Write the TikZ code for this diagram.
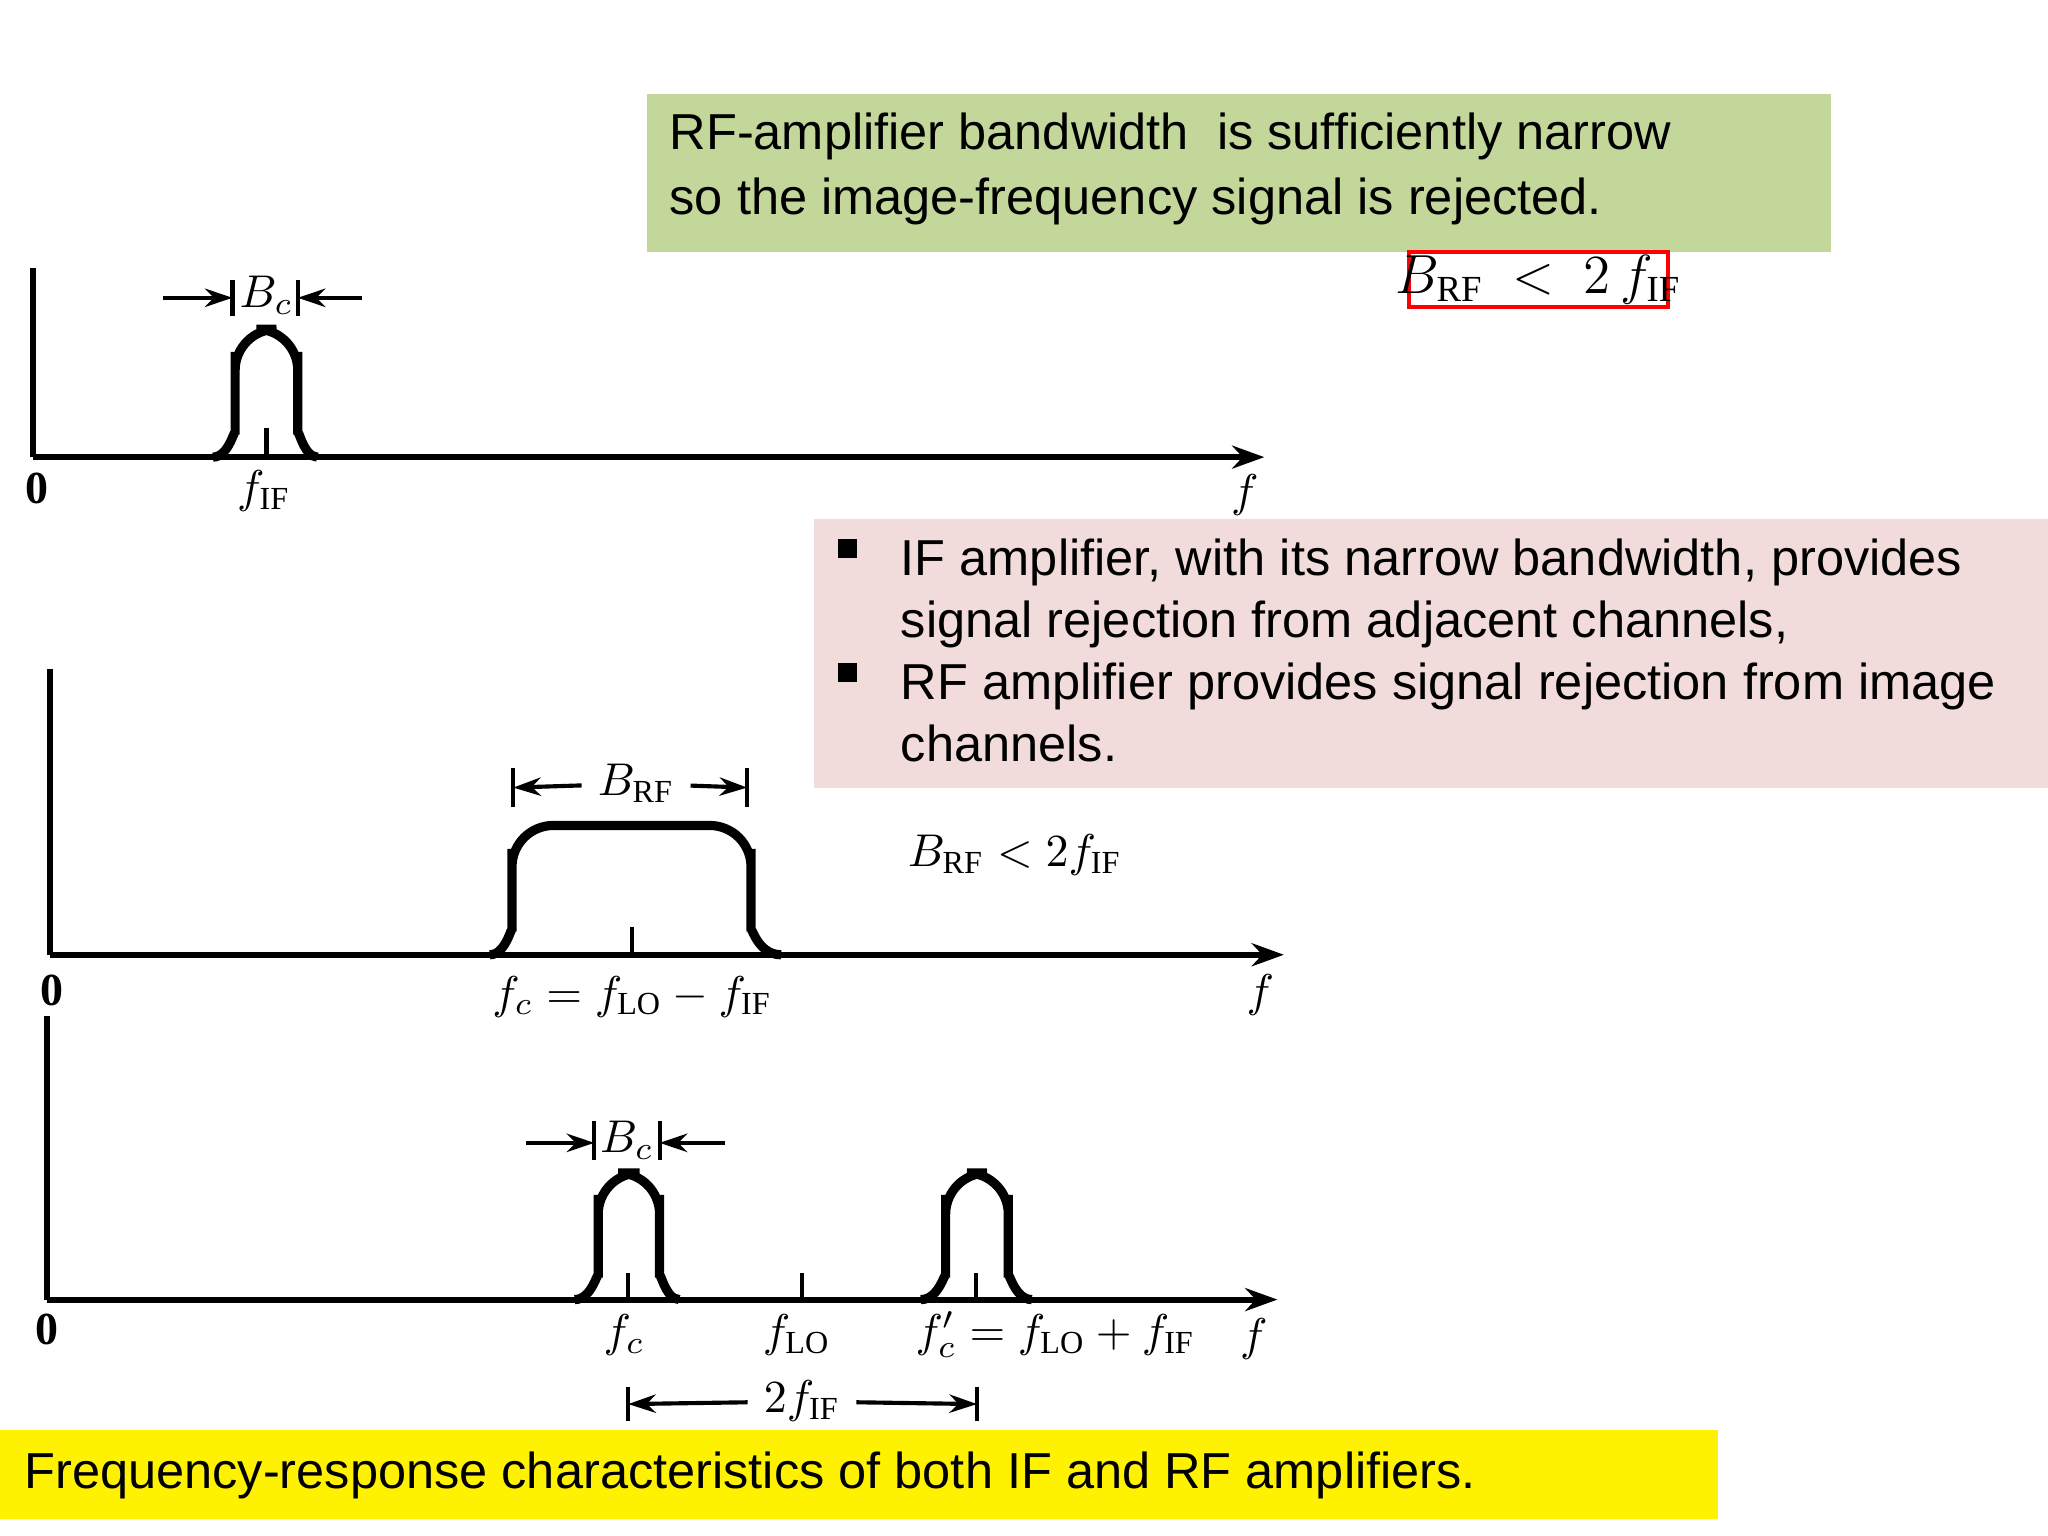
\documentclass[tikz,border=0pt]{standalone}
\usepackage{fontspec}
\setmainfont{Liberation Serif}
\newfontfamily\ar{Liberation Sans}
\usetikzlibrary{arrows.meta}
\tikzset{
 ax/.style={line width=1.3pt,-{Stealth[length=7pt,width=5pt]}},
 vax/.style={line width=1.3pt},
 bp/.style={line width=2pt,rounded corners=9pt},
 tk/.style={line width=0.9pt},
 lab/.style={font=\fontsize{10}{12}\selectfont\bfseries},
 ml/.style={font=\fontsize{10}{12}\selectfont},
 dim/.style={line width=0.9pt,-{Stealth[length=6pt,width=4pt]}},
 big/.style={font=\ar\fontsize{11}{14}\selectfont,inner sep=0pt,anchor=north west,align=left},
}
\newcommand{\bumpy}[6]{% a x1 x2 b top base
 \draw[bp] (#1,#6) .. controls (#2-4,#6) and (#2,#6-25) .. (#2,{(#5+#6)/2}) -- (#2,#5) -- (#3,#5) -- (#3,{(#5+#6)/2}) .. controls (#3,#6-25) and (#3+4,#6) .. (#4,#6);}
\begin{document}
\begin{tikzpicture}[x=0.01cm,y=-0.01cm]
\useasboundingbox (0,0) rectangle (1568,1176);
% boxes
\fill[fill={rgb,255:red,196;green,215;blue,155}] (495,72) rectangle (1402,193);
\node[big] (g) at (512,86) {RF-amplifier bandwidth\ \ is sufficiently narrow\\so the image-frequency signal is rejected.};
\draw[red,line width=0.8pt] (1079,193) rectangle (1277,235);
\node[font=\fontsize{12}{14}\selectfont] (rb) at (1178,214) {$B_{\mathrm{RF}}\ <\ 2\,f_{\mathrm{IF}}$};
\fill[fill={rgb,255:red,242;green,220;blue,219}] (623,397) rectangle (1568,603);
\node[big,font=\ar\fontsize{11}{13.5}\selectfont] (b1) at (641,412) {\rule{0.7ex}{0.7ex}};
\node[big,font=\ar\fontsize{11}{13.5}\selectfont] (b2) at (641,507) {\rule{0.7ex}{0.7ex}};
\node[big,font=\ar\fontsize{11}{13.5}\selectfont] (p) at (689,412) {IF amplifier, with its narrow bandwidth, provides\\signal rejection from adjacent channels,\\RF amplifier provides signal rejection from image\\channels.};
\fill[yellow] (0,1095) rectangle (1315,1163);
\node[big] (y) at (18,1111) {Frequency-response characteristics of both IF and RF amplifiers.};
% plot 1
\coordinate (o1) at (25,350); \coordinate (t1) at (25,205); \coordinate (e1) at (968,350);
\draw[vax] (t1) -- (o1); \draw[ax] (o1) -- (e1);
\bumpy{163}{180}{228}{243}{252}{350}
\coordinate (k1) at (204,328); \draw[tk] (k1) -- ++(0,22);
\node[lab] (z1) at (28,374) {0};
\node[ml] (fif) at (202,376) {$f_{\mathrm{IF}}$};
\node[ml] (ff1) at (953,379) {$f$};
\node[ml] (bc1) at (204,226) {$B_c$};
\coordinate (l1) at (178,228); \coordinate (r1) at (228,228);
\draw[tk] (178,214) -- (178,242); \draw[tk] (228,214) -- (228,242);
\draw[dim] (125,228) -- (l1); \draw[dim] (277,228) -- (r1);
% plot 2
\coordinate (o2) at (38,731); \coordinate (t2) at (38,512); \coordinate (e2) at (983,731);
\draw[vax] (t2) -- (o2); \draw[ax] (o2) -- (e2);
\bumpy{375}{392}{575}{598}{632}{731}
\draw[tk] (484,710) -- (484,731);
\node[lab] (z2) at (40,758) {0};
\node[ml] (fc2) at (484,763) {$f_c = f_{\mathrm{LO}} - f_{\mathrm{IF}}$};
\node[ml] (ff2) at (965,762) {$f$};
\node[ml] (brf) at (487,600) {$B_{\mathrm{RF}}$};
\draw[tk] (393,588) -- (393,618); \draw[tk] (572,588) -- (572,618);
\draw[dim] (brf) -- (393,603); \draw[dim] (brf) -- (572,603);
\node[ml] (cond) at (777,655) {$B_{\mathrm{RF}} < 2 f_{\mathrm{IF}}$};
% plot 3
\coordinate (o3) at (36,995); \coordinate (t3) at (36,778); \coordinate (e3) at (978,995);
\draw[vax] (t3) -- (o3); \draw[ax] (o3) -- (e3);
\bumpy{440}{458}{505}{520}{898}{995}
\bumpy{705}{724}{772}{790}{898}{995}
\draw[tk] (481,975) -- (481,995); \draw[tk] (614,975) -- (614,995); \draw[tk] (747,975) -- (747,995);
\node[lab] (z3) at (36,1018) {0};
\node[ml] (fc3) at (478,1022) {$f_c$};
\node[ml] (flo) at (610,1022) {$f_{\mathrm{LO}}$};
\node[ml] (fcp) at (808,1022) {$f_c' = f_{\mathrm{LO}} + f_{\mathrm{IF}}$};
\node[ml] (ff3) at (960,1025) {$f$};
\node[ml] (bc3) at (480,873) {$B_c$};
\draw[tk] (455,858) -- (455,888); \draw[tk] (505,858) -- (505,888);
\draw[dim] (403,875) -- (455,875); \draw[dim] (555,875) -- (505,875);
\node[ml] (tf) at (614,1073) {$2f_{\mathrm{IF}}$};
\draw[tk] (481,1062) -- (481,1088); \draw[tk] (748,1062) -- (748,1088);
\draw[dim] (tf) -- (481,1075); \draw[dim] (tf) -- (748,1075);
\end{tikzpicture}
\end{document}
